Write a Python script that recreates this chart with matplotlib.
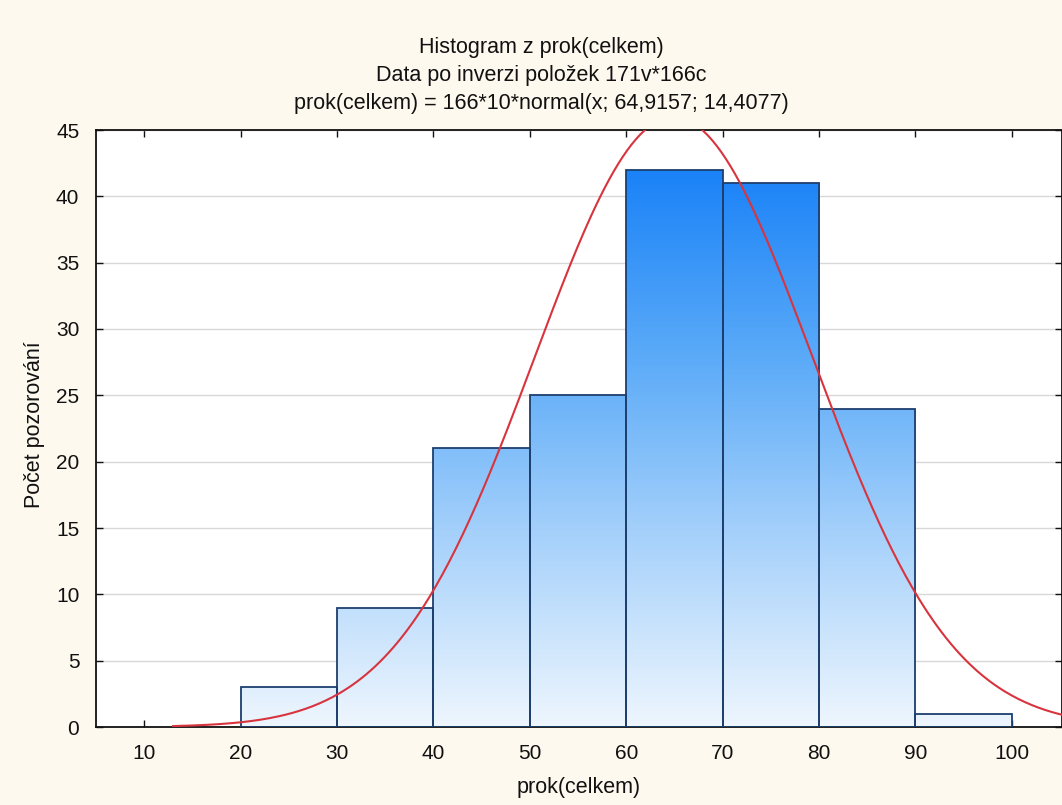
import numpy as np
import matplotlib.pyplot as plt
from matplotlib.colors import LinearSegmentedColormap
from matplotlib.patches import Rectangle

# histogram bins and counts
bin_edges = [20, 30, 40, 50, 60, 70, 80, 90, 100]
counts = [3, 9, 21, 25, 42, 41, 24, 1]

# fitted normal curve from the title: 166*10*normal(x; 64.9157; 14.4077)
n_obs = 166
bin_width = 10
mu = 64.9157
sigma = 14.4077
curve_start = 13

title_lines = ["Histogram z prok(celkem)",
               "Data po inverzi položek 171v*166c",
               "prok(celkem) = 166*10*normal(x; 64,9157; 14,4077)"]

plt.rcParams['font.family'] = ['Liberation Sans', 'DejaVu Sans']

fig = plt.figure(figsize=(10.62, 8.05), dpi=100, facecolor='#fdf9ef')
ax = fig.add_axes([96 / 1062, 1 - 727 / 805, 1 - 96 / 1062, (727 - 130) / 805])
ax.set_facecolor('white')

ax.set_yticks(np.arange(0, 46, 5))
ax.set_xticks(np.arange(10, 101, 10))
ax.grid(axis='y', color='#d8d8d8', linewidth=1)
ax.set_axisbelow(True)
ax.tick_params(direction='in', length=5, width=1, top=True, right=True,
               labelsize=15, colors='#111111', pad=12)
for s in ax.spines.values():
    s.set_linewidth(1.3)
    s.set_color('#111111')

cmap = LinearSegmentedColormap.from_list('bl', ['#eef6fe', '#a8d2fb', '#5aaaf8', '#1a82f7'])
grad = np.linspace(0, 1, 256).reshape(-1, 1)
for left, right, c in zip(bin_edges[:-1], bin_edges[1:], counts):
    rect = Rectangle((left, 0), right - left, c, facecolor='none',
                     edgecolor='#1d3f6e', linewidth=1.3, zorder=3)
    ax.add_patch(rect)
    im = ax.imshow(grad, extent=[left, right, 0, 42], origin='lower', cmap=cmap,
                   aspect='auto', zorder=2, interpolation='bilinear')
    im.set_clip_path(rect)

x = np.linspace(curve_start, 106, 400)
y = n_obs * bin_width * np.exp(-0.5 * ((x - mu) / sigma) ** 2) / (sigma * np.sqrt(2 * np.pi))
ax.plot(x, y, color='#d8343e', linewidth=1.5, zorder=4)
ax.set_xlim(5, 105.2)
ax.set_ylim(0, 45)

for i, t in enumerate(title_lines):
    fig.text(541 / 1062, 1 - (47 + 28.5 * i) / 805, t, ha='center', va='center',
             fontsize=15.5, color='#111111')
fig.text(579 / 1062, 1 - 787 / 805, 'prok(celkem)', ha='center', va='center',
         fontsize=15.5, color='#111111')
fig.text(35 / 1062, 1 - 425 / 805, 'Počet pozorování', ha='center', va='center',
         rotation=90, fontsize=15.5, color='#111111')

fig.savefig('out.png', dpi=100, facecolor=fig.get_facecolor())
